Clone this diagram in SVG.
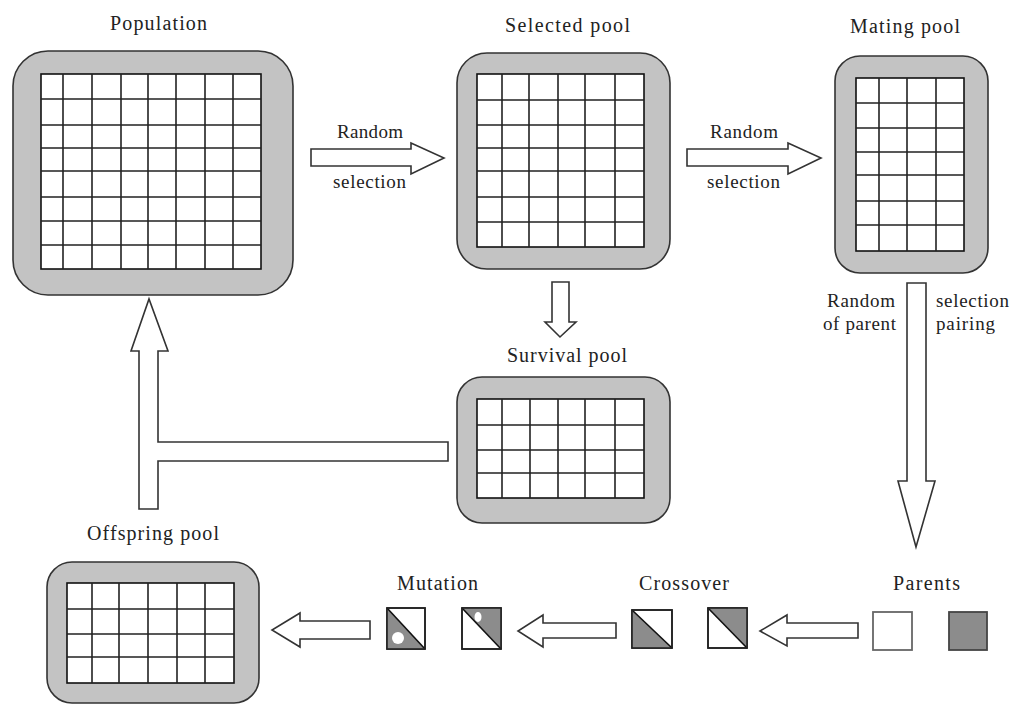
<svg xmlns="http://www.w3.org/2000/svg" width="1014" height="707" viewBox="0 0 1014 707">
<style>
text{font-family:"Liberation Serif","Times New Roman",serif;font-size:19px;fill:#222;text-anchor:middle}
.t{font-size:20px}
.pool{fill:#c3c3c3;stroke:#333;stroke-width:1.6}
.grid{fill:#fff;stroke:#111;stroke-width:1.6}
.gl{fill:none;stroke:#222;stroke-width:1.6}
.arr{fill:#fff;stroke:#333;stroke-width:1.6;stroke-linejoin:miter}
.sq{fill:#fff;stroke:#222;stroke-width:1.6}
.dk{fill:#8c8c8c;stroke:none}
.dg{stroke:#111;stroke-width:1.6}
</style>
<rect width="1014" height="707" fill="#fff"/>
<g id="population">
<text class="t" x="158.5" y="30" textLength="97" lengthAdjust="spacing">Population</text>
<rect class="pool" x="13" y="51" width="280" height="244" rx="35"/>
<rect class="grid" x="41" y="74" width="220" height="195"/>
<path class="gl" d="M63 74V269M92 74V269M121 74V269M148 74V269M176 74V269M205 74V269M233 74V269M41 99H261M41 125H261M41 148H261M41 171H261M41 197H261M41 221H261M41 245H261"/>
</g>
<g id="selected">
<text class="t" x="567.5" y="32" textLength="125" lengthAdjust="spacing">Selected pool</text>
<rect class="pool" x="457" y="53" width="213" height="216" rx="30"/>
<rect class="grid" x="477" y="74" width="167" height="173"/>
<path class="gl" d="M502 74V247M529 74V247M558 74V247M585 74V247M615 74V247M477 100H644M477 125H644M477 148H644M477 171H644M477 197H644M477 222H644"/>
</g>
<g id="mating">
<text class="t" x="905" y="33" textLength="110" lengthAdjust="spacing">Mating pool</text>
<rect class="pool" x="835" y="56" width="153" height="217" rx="25"/>
<rect class="grid" x="856" y="78" width="108" height="173"/>
<path class="gl" d="M879 78V251M907 78V251M936 78V251M856 103H964M856 128H964M856 152H964M856 175H964M856 201H964M856 225H964"/>
</g>
<g id="survival">
<text class="t" x="567" y="362" textLength="120" lengthAdjust="spacing">Survival pool</text>
<rect class="pool" x="457" y="377" width="213" height="146" rx="25"/>
<rect class="grid" x="477" y="399" width="167" height="99"/>
<path class="gl" d="M502 399V498M530 399V498M558 399V498M585 399V498M615 399V498M477 425H644M477 450H644M477 473H644"/>
</g>
<g id="offspring">
<text class="t" x="153" y="540" textLength="132" lengthAdjust="spacing">Offspring pool</text>
<rect class="pool" x="47" y="562" width="212" height="141" rx="25"/>
<rect class="grid" x="67" y="583" width="167" height="100"/>
<path class="gl" d="M92 583V683M119 583V683M148 583V683M177 583V683M205 583V683M67 609H234M67 634H234M67 657H234"/>
</g>
<g id="mutation">
<text class="t" x="437.5" y="590" textLength="81" lengthAdjust="spacing">Mutation</text>
<rect class="sq" x="387" y="608" width="38" height="41"/>
<polygon class="dk" points="387,608 387,649 425,649"/>
<circle cx="398" cy="638" r="6" fill="#fff"/>
<line class="dg" x1="387" y1="608" x2="425" y2="649"/>
<rect class="sq" x="387" y="608" width="38" height="41" fill="none" style="fill:none"/>
<rect class="sq" x="462" y="608" width="39" height="41"/>
<polygon class="dk" points="462,608 501,608 501,649"/>
<ellipse cx="478" cy="617" rx="3.5" ry="5" fill="#fff"/>
<line class="dg" x1="462" y1="608" x2="501" y2="649"/>
<rect class="sq" x="462" y="608" width="39" height="41" style="fill:none"/>
</g>
<g id="crossover">
<text class="t" x="684" y="590" textLength="90" lengthAdjust="spacing">Crossover</text>
<rect class="sq" x="632" y="610" width="40" height="38"/>
<polygon class="dk" points="632,610 632,648 672,648"/>
<line class="dg" x1="632" y1="610" x2="672" y2="648"/>
<rect class="sq" x="632" y="610" width="40" height="38" style="fill:none"/>
<rect class="sq" x="708" y="608" width="39" height="40"/>
<polygon class="dk" points="708,608 747,608 747,648"/>
<line class="dg" x1="708" y1="608" x2="747" y2="648"/>
<rect class="sq" x="708" y="608" width="39" height="40" style="fill:none"/>
</g>
<g id="parents">
<text class="t" x="926.5" y="590" textLength="67" lengthAdjust="spacing">Parents</text>
<rect x="873" y="612" width="39" height="38" fill="#fff" stroke="#666" stroke-width="1.8"/>
<rect x="949" y="612" width="38" height="38" fill="#8c8c8c" stroke="#444" stroke-width="1.8"/>
</g>
<g id="connectors">
<polygon class="arr" points="311,149 411,149 411,143 444,158 411,174 411,166 311,166"/>
<text x="370" y="138" textLength="66" lengthAdjust="spacing">Random</text>
<text x="369.5" y="188" textLength="73" lengthAdjust="spacing">selection</text>
<polygon class="arr" points="687,149 788,149 788,143 821,158 788,174 788,166 687,166"/>
<text x="744" y="138" textLength="68" lengthAdjust="spacing">Random</text>
<text x="743.5" y="188" textLength="73" lengthAdjust="spacing">selection</text>
<polygon class="arr" points="552,282 569,282 569,322 576,322 560,337 545,322 552,322"/>
<polygon class="arr" points="907,283 926,283 926,481 935,481 916,547 898,481 907,481"/>
<text x="861" y="307" textLength="68" lengthAdjust="spacing">Random</text>
<text x="859.5" y="330" textLength="73" lengthAdjust="spacing">of parent</text>
<text x="972.5" y="307" textLength="73" lengthAdjust="spacing">selection</text>
<text x="965.5" y="330" textLength="59" lengthAdjust="spacing">pairing</text>
<polygon class="arr" points="139,509 139,351 131,351 149,299 168,351 158,351 158,442 448,442 448,461 158,461 158,509"/>
<polygon class="arr" points="858,623 787,623 787,615 760,631 787,646 787,638 858,638"/>
<polygon class="arr" points="616,623 543,623 543,615 518,631 543,647 543,638 616,638"/>
<polygon class="arr" points="370,621 300,621 300,613 272,630 300,647 300,639 370,639"/>
</g>
</svg>
